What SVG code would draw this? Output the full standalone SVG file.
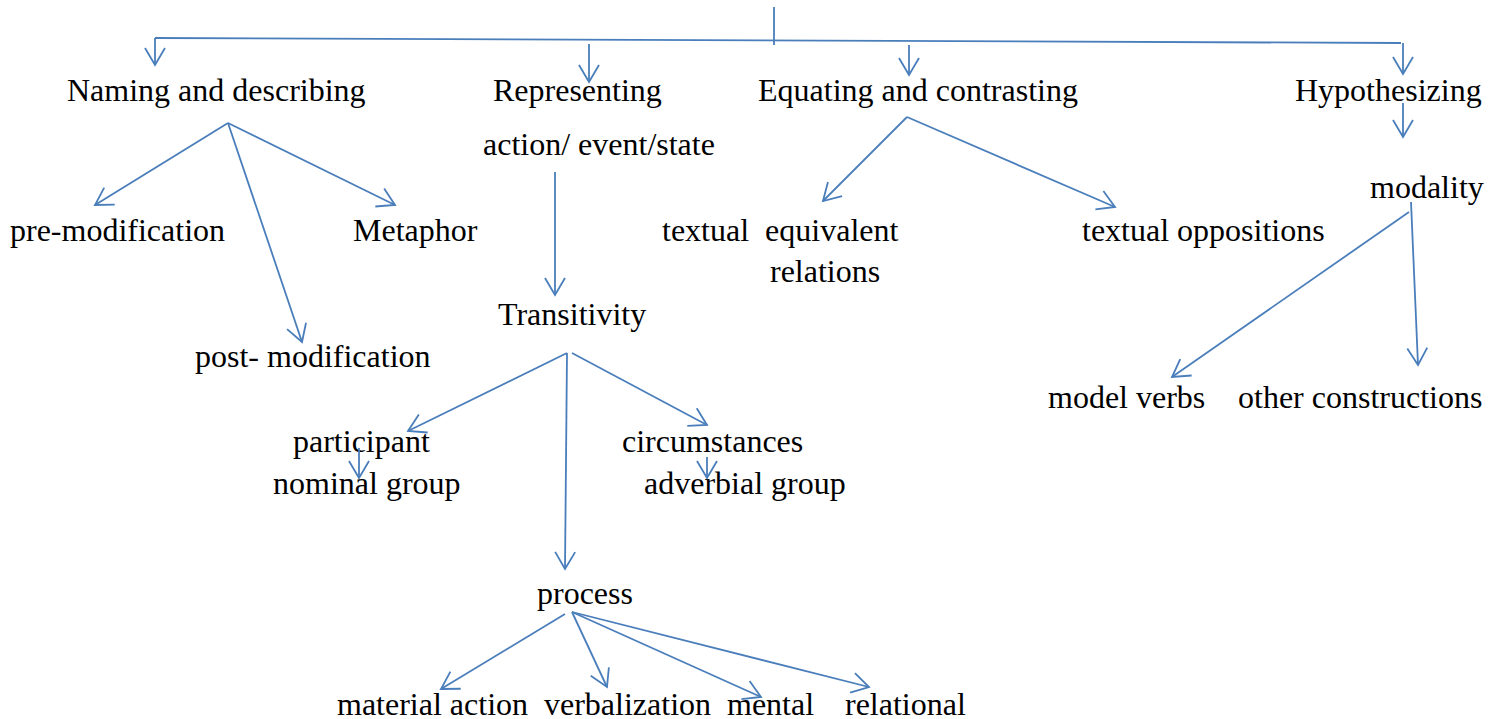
<svg xmlns="http://www.w3.org/2000/svg" width="1500" height="719" viewBox="0 0 1500 719">
<style>
text{font-family:"Liberation Serif","Times New Roman",serif;font-size:32px;fill:#000;white-space:pre}
.c line{stroke:#4a7ebb;stroke-width:1.8;fill:none}
.a{marker-end:url(#arr)}
</style>
<defs>
<marker id="arr" markerUnits="userSpaceOnUse" viewBox="-20 -12 22 24" markerWidth="22" markerHeight="24" refX="0" refY="0" orient="auto" overflow="visible">
<path d="M-17,-10 L0,0 L-17,10" fill="none" stroke="#4a7ebb" stroke-width="1.8"/>
</marker>
</defs>
<rect width="1500" height="719" fill="#fff"/>
<g id="n-naming"><text x="67" y="101">Naming and describing</text></g>
<g id="n-representing"><text x="493" y="101">Representing</text></g>
<g id="n-equating"><text x="758" y="101">Equating and contrasting</text></g>
<g id="n-hypothesizing"><text x="1295" y="101">Hypothesizing</text></g>
<g id="n-action"><text x="483" y="155">action/ event/state</text></g>
<g id="n-premod"><text x="10" y="241">pre-modification</text></g>
<g id="n-metaphor"><text x="353" y="241">Metaphor</text></g>
<g id="n-postmod"><text x="195" y="367">post- modification</text></g>
<g id="n-equivalent"><text x="662" y="241">textual  equivalent</text><text x="770" y="282">relations</text></g>
<g id="n-oppositions"><text x="1082" y="241">textual oppositions</text></g>
<g id="n-modality"><text x="1370" y="198">modality</text></g>
<g id="n-modelverbs"><text x="1048" y="408">model verbs</text></g>
<g id="n-other"><text x="1238" y="408">other constructions</text></g>
<g id="n-transitivity"><text x="498" y="325">Transitivity</text></g>
<g id="n-participant"><text x="293" y="452">participant</text></g>
<g id="n-nominal"><text x="273" y="494">nominal group</text></g>
<g id="n-circumstances"><text x="622" y="452">circumstances</text></g>
<g id="n-adverbial"><text x="644" y="494">adverbial group</text></g>
<g id="n-process"><text x="537" y="604">process</text></g>
<g id="n-material"><text x="337" y="715">material action</text></g>
<g id="n-verbalization"><text x="544" y="715">verbalization</text></g>
<g id="n-mental"><text x="727" y="715">mental</text></g>
<g id="n-relational"><text x="845" y="715">relational</text></g>
<g id="connectors" class="c">
<line x1="774" y1="7" x2="774" y2="45"/>
<line x1="155" y1="38" x2="1401" y2="43"/>
<line class="a" x1="155" y1="38" x2="155" y2="65"/>
<line class="a" x1="589" y1="44" x2="589" y2="82"/>
<line class="a" x1="909" y1="45" x2="909" y2="75"/>
<line class="a" x1="1403" y1="43" x2="1403" y2="74"/>
<line class="a" x1="228" y1="123" x2="95" y2="205"/>
<line class="a" x1="228" y1="123" x2="395" y2="205"/>
<line class="a" x1="228" y1="123" x2="302" y2="342"/>
<line class="a" x1="555" y1="172" x2="555" y2="295"/>
<line class="a" x1="907" y1="117" x2="823" y2="201"/>
<line class="a" x1="907" y1="117" x2="1115" y2="207"/>
<line class="a" x1="1403" y1="103" x2="1403" y2="137"/>
<line class="a" x1="1409" y1="212" x2="1172" y2="377"/>
<line class="a" x1="1411" y1="202" x2="1418" y2="365"/>
<line class="a" x1="567" y1="353" x2="408" y2="431"/>
<line class="a" x1="572" y1="353" x2="707" y2="425"/>
<line class="a" x1="567" y1="353" x2="565" y2="569"/>
<line class="a" x1="359" y1="448" x2="359" y2="478"/>
<line class="a" x1="707" y1="457" x2="707" y2="478"/>
<line class="a" x1="565" y1="614" x2="441" y2="689"/>
<line class="a" x1="572" y1="612" x2="607" y2="687"/>
<line class="a" x1="572" y1="612" x2="761" y2="697"/>
<line class="a" x1="572" y1="612" x2="869" y2="687"/>
</g>
</svg>
